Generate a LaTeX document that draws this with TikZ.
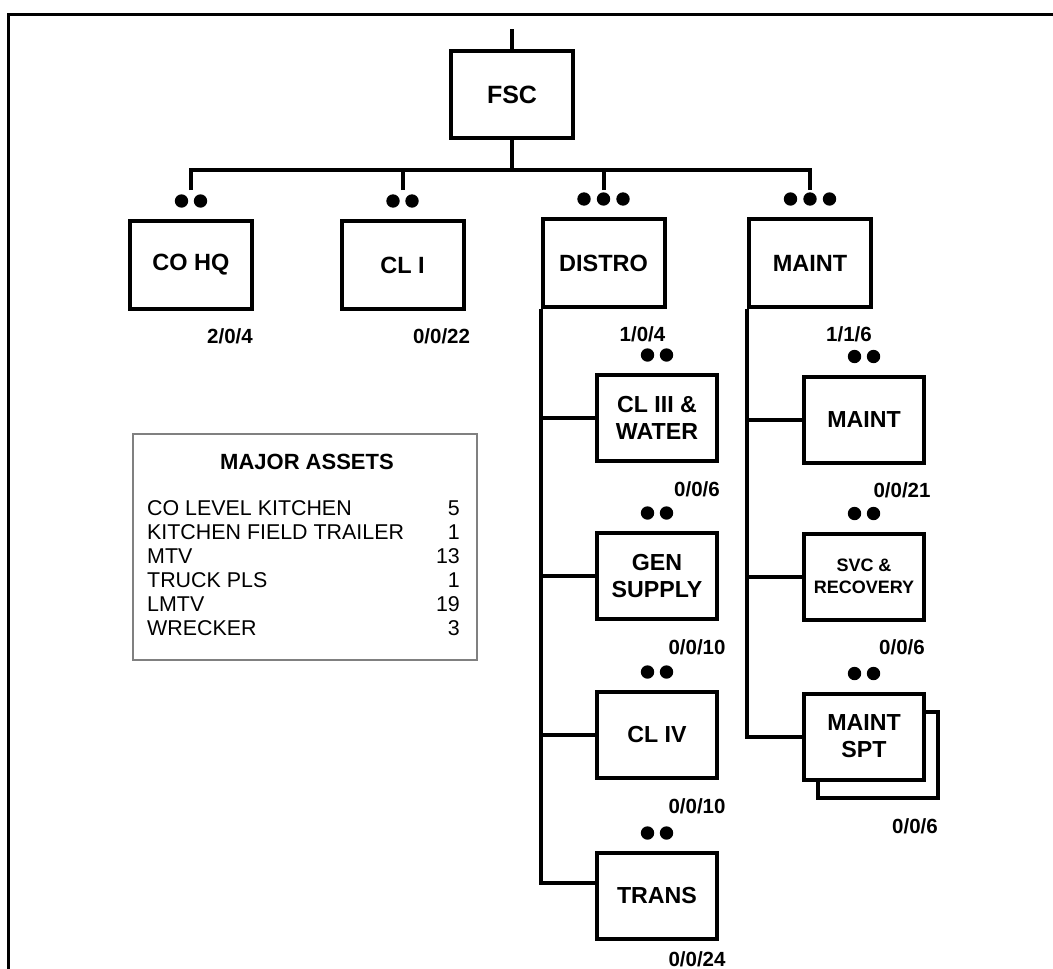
\documentclass[tikz,border=0pt]{standalone}
\usepackage{fontspec}
\setmainfont{Liberation Sans}
\begin{document}
\begin{tikzpicture}[x=1pt,y=-1pt,
  mainbox/.style={draw, line width=4pt, minimum width=122pt, minimum height=88pt, inner sep=0pt, fill=white, align=center, font=\bfseries\fontsize{23.5}{27}\selectfont},
  subbox/.style={draw, line width=4pt, minimum width=120pt, minimum height=86pt, inner sep=0pt, fill=white, align=center, font=\bfseries\fontsize{23.2}{27}\selectfont},
  conn/.style={line width=4pt},
  num/.style={inner sep=0pt, font=\bfseries\fontsize{20.5}{24}\selectfont},
  assetrow/.style={inner sep=0pt, font=\fontsize{21.4}{24}\selectfont},
  twodots/.pic={\fill (-9.5,0) circle[radius=6.7] (9.5,0) circle[radius=6.7];},
  threedots/.pic={\fill (-19.5,0) circle[radius=6.7] (0,0) circle[radius=6.7] (19.5,0) circle[radius=6.7];}
]
\useasboundingbox (0,0) rectangle (1053,969);
% outer frame
\draw[line width=3pt] (1053,14) -- (8.5,14) -- (8.5,969);

% top level
\node[mainbox, minimum height=87pt, font=\bfseries\fontsize{25}{29}\selectfont] (fsc) at (512,94.5) {FSC};
\node[mainbox] (cohq) at (191,265) {CO HQ};
\node[mainbox] (cli) at (402.5,265) {CL I};
\node[mainbox] (distro) at (603.5,263) {DISTRO};
\node[mainbox] (maint) at (810,263) {MAINT};

\coordinate (top) at (512,29);
\coordinate (bar) at (512,170);
\coordinate (lvl) at (0,190);
\draw[conn] (fsc.north) -- (top);
\draw[conn] (fsc.south) -- (bar);
\draw[conn] (cohq.north |- lvl) |- (bar) -| (maint.north |- lvl);
\draw[conn] (cli.north |- lvl) -- (cli.north |- bar);
\draw[conn] (distro.north |- lvl) -- (distro.north |- bar);

\pic at ([yshift=18pt]cohq.north) {twodots};
\pic at ([yshift=18pt]cli.north) {twodots};
\pic at ([yshift=18pt]distro.north) {threedots};
\pic at ([yshift=18pt]maint.north) {threedots};

\node[num] (lcohq) at ([shift={(39pt,-25pt)}]cohq.south) {2/0/4};
\node[num] (lcli) at ([shift={(39pt,-25pt)}]cli.south) {0/0/22};
\node[num] (ldistro) at ([shift={(39pt,-25pt)}]distro.south) {1/0/4};
\node[num] (lmaint) at ([shift={(39pt,-25pt)}]maint.south) {1/1/6};

% DISTRO column
\node[subbox] (cl3) at (657,418) {CL III \&\\WATER};
\node[subbox] (gen) at (657,576) {GEN\\SUPPLY};
\node[subbox] (cl4) at (657,735) {CL IV};
\node[subbox] (trans) at (657,896) {TRANS};
\draw[conn] (distro.south west) |- ([yshift=13pt]trans.west);
\draw[conn] (distro.south west |- cl3.west) -- (cl3.west);
\draw[conn] (distro.south west |- gen.west) -- (gen.west);
\draw[conn] (distro.south west |- cl4.west) -- (cl4.west);
\foreach \b in {cl3,gen,cl4,trans}{\pic at ([yshift=18pt]\b.north) {twodots};}
\node[num] (lcl3) at ([shift={(40pt,-26pt)}]cl3.south) {0/0/6};
\node[num] (lgen) at ([shift={(40pt,-26pt)}]gen.south) {0/0/10};
\node[num] (lcl4) at ([shift={(40pt,-26pt)}]cl4.south) {0/0/10};
\node[num] (ltrans) at ([shift={(40pt,-18.5pt)}]trans.south) {0/0/24};

% MAINT column
\node[subbox] (msub) at (864,419.5) {MAINT};
\node[subbox, font=\bfseries\fontsize{18}{22}\selectfont] (svc) at (864,576.5) {SVC \&\\RECOVERY};
\node[subbox] (msptsh) at (878,754.5) {};
\node[subbox] (mspt) at (864,736.5) {MAINT\\SPT};
\draw[conn] (maint.south west) |- (mspt.west);
\draw[conn] (maint.south west |- msub.west) -- (msub.west);
\draw[conn] (maint.south west |- svc.west) -- (svc.west);
\foreach \b in {msub,svc,mspt}{\pic at ([yshift=18pt]\b.north) {twodots};}
\node[num] (lmsub) at ([shift={(38pt,-26pt)}]msub.south) {0/0/21};
\node[num] (lsvc) at ([shift={(38pt,-26pt)}]svc.south) {0/0/6};
\node[num] (lmspt) at ([shift={(37pt,-27pt)}]msptsh.south) {0/0/6};

% Major assets
\node[draw=gray, line width=2pt, minimum width=344pt, minimum height=226pt, inner sep=0pt] (assets) at (305,547) {};
\node[inner sep=0pt, font=\bfseries\fontsize{22}{26}\selectfont] (atitle) at (307,462) {MAJOR ASSETS};
\node[assetrow, anchor=west] (a1) at (147,508) {CO LEVEL KITCHEN};
\node[assetrow, anchor=west] (a2) at (147,532) {KITCHEN FIELD TRAILER};
\node[assetrow, anchor=west] (a3) at (147,556) {MTV};
\node[assetrow, anchor=west] (a4) at (147,580) {TRUCK PLS};
\node[assetrow, anchor=west] (a5) at (147,604) {LMTV};
\node[assetrow, anchor=west] (a6) at (147,628) {WRECKER};
\node[assetrow, anchor=east] (n1) at (460,508) {5};
\node[assetrow, anchor=east] (n2) at (460,532) {1};
\node[assetrow, anchor=east] (n3) at (460,556) {13};
\node[assetrow, anchor=east] (n4) at (460,580) {1};
\node[assetrow, anchor=east] (n5) at (460,604) {19};
\node[assetrow, anchor=east] (n6) at (460,628) {3};
\end{tikzpicture}
\end{document}
